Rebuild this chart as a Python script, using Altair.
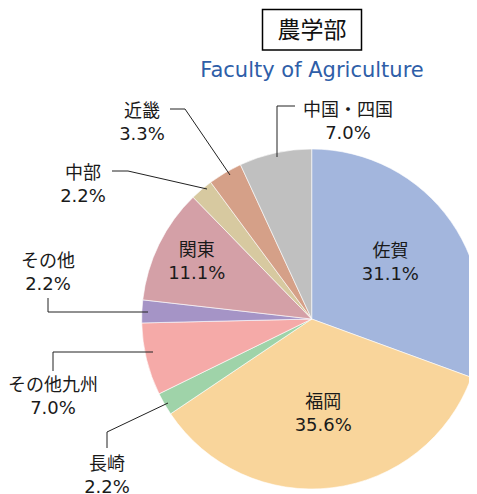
import altair as alt
import pandas as pd

# ---- data ----
categories = ["佐賀", "福岡", "長崎", "その他九州", "その他", "関東", "中部", "近畿", "中国・四国"]
values = [31.1, 35.6, 2.2, 7.0, 2.2, 11.1, 2.2, 3.3, 7.0]
colors = ["#a3b6dd", "#f9d59b", "#9fd3a9", "#f5aaa8", "#a594c6",
          "#d4a0a7", "#d7c9a0", "#d5a088", "#c0c0c0"]
title_text = "農学部"
subtitle_text = "Faculty of Agriculture"

# ---- layout (page pixels -> view pixels by subtracting the 8px margin) ----
M = 8
LH = 23
CX, CY, R = 311.7 - M, 319 - M, 170
inside_r96 = ["佐賀", "福岡"]
inside_r128 = ["関東"]
outside_pos = {  # centre of first text line
    "中国・四国": (348, 111),
    "近畿": (142, 112),
    "中部": (83, 173.5),
    "その他": (48, 262),
    "その他九州": (53, 386),
    "長崎": (107, 465),
}
leaders = {
    "中国・四国": [(277, 157), (277, 106), (295, 106)],
    "近畿": [(170, 109), (185, 109), (230, 175)],
    "中部": [(112, 171), (128, 171), (207, 189)],
    "その他": [(48, 298), (48, 312), (148, 312)],
    "その他九州": [(153, 352), (53, 352), (53, 371)],
    "長崎": [(107, 448), (107, 432), (168, 403)],
}

FONT = "DejaVu Sans, Noto Sans CJK JP, sans-serif"

labels = [f"{c}\n{v:.1f}%" for c, v in zip(categories, values)]
df = pd.DataFrame({
    "cat": categories,
    "value": values,
    "idx": list(range(len(categories))),
    "label": labels,
    "in96": [l if c in inside_r96 else "" for c, l in zip(categories, labels)],
    "in128": [l if c in inside_r128 else "" for c, l in zip(categories, labels)],
})

out_rows = []
for c, l in zip(categories, labels):
    if c in outside_pos:
        x, y = outside_pos[c]
        out_rows.append({"cat": c, "label": l, "px": x - M, "py": y - M})
df_out = pd.DataFrame(out_rows)

lead_rows = []
for c, pts in leaders.items():
    for k, (x, y) in enumerate(pts):
        lead_rows.append({"cat": c, "k": k, "px": x - M, "py": y - M})
df_lead = pd.DataFrame(lead_rows)

base = alt.Chart(df)
theta = alt.Theta("value:Q", stack=True)
order = alt.Order("idx:Q")

arcs = base.mark_arc(outerRadius=R, stroke="white", strokeWidth=0.6).encode(
    theta=theta, order=order,
    color=alt.Color("cat:N", scale=alt.Scale(domain=categories, range=colors), legend=None),
    x=alt.value(CX), y=alt.value(CY),
)

txt_common = dict(font=FONT, fontSize=18, lineBreak="\n", lineHeight=LH,
                  align="center", baseline="middle", color="#1a1a1a")
in1 = base.mark_text(radius=96, dy=-LH / 2, **txt_common).encode(
    theta=theta, order=order, text="in96:N", x=alt.value(CX), y=alt.value(CY))
in2 = base.mark_text(radius=128, dy=-LH / 2, **txt_common).encode(
    theta=theta, order=order, text="in128:N", x=alt.value(CX), y=alt.value(CY))

lines = alt.Chart(df_lead).mark_line(color="#222222", strokeWidth=1).encode(
    x=alt.X("px:Q", scale=None), y=alt.Y("py:Q", scale=None),
    detail="cat:N", order="k:Q")

out_txt = alt.Chart(df_out).mark_text(**txt_common).encode(
    x=alt.X("px:Q", scale=None), y=alt.Y("py:Q", scale=None), text="label:N")

box = alt.Chart(df.head(1)).mark_rect(fill="white", stroke="black", strokeWidth=1.5).encode(
    x=alt.value(262.5 - M), x2=alt.value(361.5 - M), y=alt.value(9.5 - M), y2=alt.value(50 - M))
title = alt.Chart(df.head(1)).mark_text(font="Noto Sans CJK JP", fontSize=23, color="#111111",
                                         align="center", baseline="middle").encode(
    x=alt.value(312 - M), y=alt.value(31 - M), text=alt.value(title_text))
subtitle = alt.Chart(df.head(1)).mark_text(font="DejaVu Sans", fontSize=21, color="#2e5ea8",
                                            align="center", baseline="middle").encode(
    x=alt.value(312 - M), y=alt.value(70.5 - M), text=alt.value(subtitle_text))

chart = alt.layer(arcs, lines, in1, in2, out_txt, box, title, subtitle).properties(
    width=461, height=486, autosize=alt.AutoSizeParams(type="none"), padding=0
).configure_view(stroke=None)

chart.save("out.html", embed_options={"renderer": "svg", "actions": False})
